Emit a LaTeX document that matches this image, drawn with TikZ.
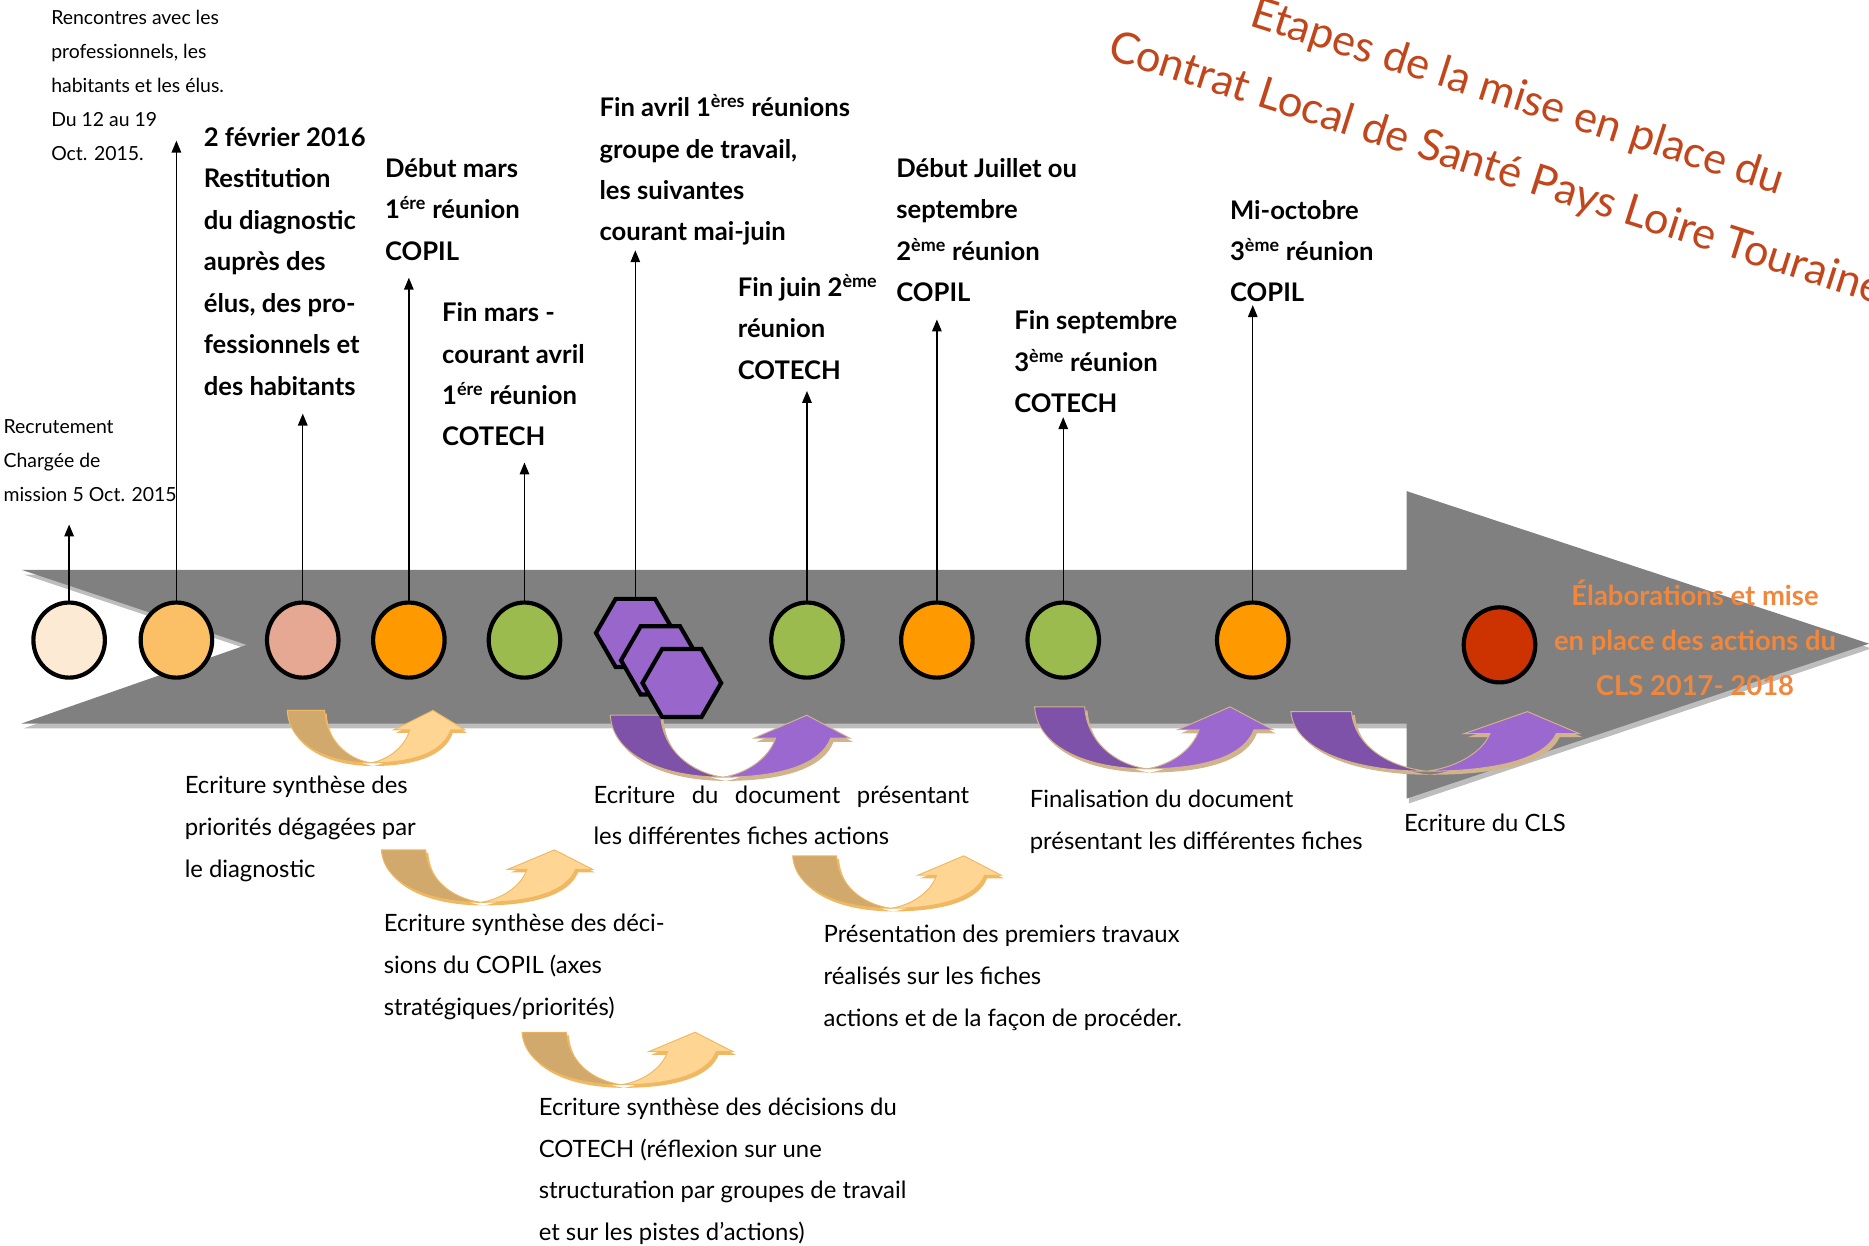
\documentclass[tikz,border=0pt]{standalone}
\usepackage{fontspec}
\setmainfont{Lato}
\usetikzlibrary{shapes.geometric,arrows.meta}
\definecolor{arrowgray}{HTML}{808080}
\definecolor{shadowgray}{HTML}{BDBDBD}
\definecolor{cpeach}{HTML}{FDEAD5}
\definecolor{clorange}{HTML}{FBC066}
\definecolor{csalmon}{HTML}{E7A893}
\definecolor{corange}{HTML}{FF9900}
\definecolor{cgreen}{HTML}{9BBB4F}
\definecolor{cred}{HTML}{CC3300}
\definecolor{hexpurple}{HTML}{9966CC}
\definecolor{orangetxt}{HTML}{F0873C}
\definecolor{titlered}{HTML}{C2461B}
\definecolor{tandark}{HTML}{D2A96C}
\definecolor{tanlight}{HTML}{FFD593}
\definecolor{tanedge}{HTML}{F0B860}
\definecolor{purdark}{HTML}{7E52A8}
\definecolor{purlight}{HTML}{9B68CF}
\definecolor{puredge}{HTML}{D2B48C}
\tikzset{
  uarrow/.pic={
    \begin{scope}[shift={(0.012,0.06)}]
      \path[fill=#1edge] (0,0) -- (0.21,0) .. controls (0.22,0.55) and (0.33,0.92) .. (0.47,1)
        .. controls (0.22,1) and (0.01,0.65) .. (0,0) -- cycle;
      \path[fill=#1edge] (0.47,1) .. controls (0.56,0.95) and (0.66,0.72) .. (0.69,0.37)
        -- (0.60,0.37) -- (0.82,0) -- (1,0.37) -- (0.92,0.37)
        .. controls (0.88,0.78) and (0.72,1) .. (0.47,1) -- cycle;
    \end{scope}
    \path[fill=#1dark, draw=#1edge, line width=0.8pt] (0,0) -- (0.21,0) .. controls (0.22,0.55) and (0.33,0.92) .. (0.47,1)
      .. controls (0.22,1) and (0.01,0.65) .. (0,0) -- cycle;
    \path[fill=#1light, draw=#1edge, line width=0.8pt] (0.47,1) .. controls (0.56,0.95) and (0.66,0.72) .. (0.69,0.37)
      -- (0.60,0.37) -- (0.82,0) -- (1,0.37) -- (0.92,0.37)
      .. controls (0.88,0.78) and (0.72,1) .. (0.47,1) -- cycle;
  }
}
\begin{document}
\begin{tikzpicture}[x=1pt,y=-1pt,
  every node/.style={inner sep=0pt, outer sep=0pt},
  small/.style={anchor=north west, align=left, font=\fontsize{16.3}{28.5}\selectfont},
  milestone/.style={anchor=north west, align=left, font=\fontsize{21.5}{34.8}\selectfont\bfseries},
  task/.style={anchor=north west, align=left, font=\fontsize{20}{35}\selectfont},
  dot/.style={ellipse, draw=black, line width=3.5pt, minimum width=60pt, minimum height=63pt},
  hexa/.style={regular polygon, regular polygon sides=6, minimum size=66pt, draw=black, line width=3.5pt, fill=hexpurple},
  up/.style={draw=black, line width=1.1pt, -{Triangle[width=8pt,length=10pt]}},
  title/.style={anchor=base west, rotate=-17.7, text=titlered, font=\fontsize{36.5}{42}\selectfont},
]
\path[use as bounding box] (0,0) rectangle (1568,1045.33);
\clip (0,0) rectangle (1568,1045.33);

% main gray arrow
\begin{scope}[shift={(2,4)}]
  \fill[shadowgray] (18,478) -- (1180,478) -- (1180,412) -- (1568,540) -- (1180,670) -- (1180,607) -- (18,607) -- (207,541) -- cycle;
\end{scope}
\fill[arrowgray] (18,478) -- (1180,478) -- (1180,412) -- (1568,540) -- (1180,670) -- (1180,607) -- (18,607) -- (207,541) -- cycle;

% title
\node[title] (title1) at (1047,21) {Etapes de la mise en place du};
\node[title] (title2) at (928,49) {Contrat Local de Santé Pays Loire Touraine};

% curved U arrows
\pic[xscale=149, yscale=44] at (241,596) {uarrow=tan};
\pic[xscale=177, yscale=44] at (320,713) {uarrow=tan};
\pic[xscale=177, yscale=44] at (438,866) {uarrow=tan};
\pic[xscale=175, yscale=44] at (665,718) {uarrow=tan};
\pic[xscale=201, yscale=52] at (512,600) {uarrow=pur};
\pic[xscale=200, yscale=52] at (868,593) {uarrow=pur};
\pic[xscale=242, yscale=50] at (1083,597) {uarrow=pur};

% milestones
\node[dot, fill=cpeach] (c1) at (58,537) {};
\node[dot, fill=clorange] (c2) at (148,537) {};
\node[dot, fill=csalmon] (c3) at (254,537) {};
\node[dot, fill=corange] (c4) at (343,537) {};
\node[dot, fill=cgreen] (c5) at (440,537) {};
\node[hexa] (h1) at (533,531) {};
\node[hexa] (h2) at (554,554) {};
\node[hexa] (h3) at (572,573) {};
\node[dot, fill=cgreen] (c7) at (677,537) {};
\node[dot, fill=corange] (c8) at (786,537) {};
\node[dot, fill=cgreen] (c9) at (892,537) {};
\node[dot, fill=corange] (c10) at (1051,537) {};
\node[dot, fill=cred] (c11) at (1258,541) {};

% arrow tips
\coordinate (t1) at (58,440);
\coordinate (t2) at (148,118);
\coordinate (t3) at (254,347);
\coordinate (t4) at (343,233);
\coordinate (t5) at (440,388);
\coordinate (t6) at (533,210);
\coordinate (t7) at (677,328);
\coordinate (t8) at (786,268);
\coordinate (t9) at (892,350);
\coordinate (t10) at (1051,256);
\draw[up] (c1.north) -- (t1);
\draw[up] (c2.north) -- (t2);
\draw[up] (c3.north) -- (t3);
\draw[up] (c4.north) -- (t4);
\draw[up] (c5.north) -- (t5);
\draw[up] (h1.north) -- (t6);
\draw[up] (c7.north) -- (t7);
\draw[up] (c8.north) -- (t8);
\draw[up] (c9.north) -- (t9);
\draw[up] (c10.north) -- (t10);

% upper labels
\node[small] (l1) at (3,343.7) {\strut Recrutement\\Chargée de\\mission 5 Oct. 2015};
\node[small] (l2) at (43,0.7) {\strut Rencontres avec les\\professionnels, les\\habitants et les élus.\\Du 12 au 19\\Oct. 2015.};
\node[milestone] (l3) at (171,98.4) {\strut 2 février 2016\\Restitution\\du diagnostic\\auprès des\\élus, des pro-\\fessionnels et\\des habitants};
\node[milestone] (l4) at (323,124.4) {\strut Début mars\\1\textsuperscript{ére} réunion\\COPIL};
\node[milestone] (l5) at (371,245.4) {\strut Fin mars -\\courant avril\\1\textsuperscript{ére} réunion\\COTECH};
\node[milestone] (l6) at (503,73.4) {\strut Fin avril 1\textsuperscript{ères} réunions\\groupe de travail,\\les suivantes\\courant mai-juin};
\node[milestone] (l7) at (619,224.4) {\strut Fin juin 2\textsuperscript{ème}\\réunion\\COTECH};
\node[milestone] (l8) at (752,124.4) {\strut Début Juillet ou\\septembre\\2\textsuperscript{ème} réunion\\COPIL};
\node[milestone] (l9) at (851,252.4) {\strut Fin septembre\\3\textsuperscript{ème} réunion\\COTECH};
\node[milestone] (l10) at (1032,159.4) {\strut Mi-octobre\\3\textsuperscript{ème} réunion\\COPIL};

% final text on arrow head
\node[anchor=north, align=center, text=orangetxt, font=\fontsize{23}{37.5}\selectfont\bfseries] (fin) at (1422,482) {\strut Élaborations et mise\\en place des actions du\\CLS 2017- 2018};

% lower texts
\node[task] (b1) at (155,641.3) {\strut Ecriture synthèse des\\priorités dégagées par\\le diagnostic};
\node[task] (b2) at (322,757.3) {\strut Ecriture synthèse des déci-\\sions du COPIL (axes\\stratégiques/priorités)};
\node[task] (b3) at (452,911.3) {\strut Ecriture synthèse des décisions du\\COTECH (réflexion sur une\\structuration par groupes de travail\\et sur les pistes d’actions)};
\node[task] (b4) at (498,649.3) {\strut\makebox[315pt][s]{Ecriture du document présentant}\\les différentes fiches actions};
\node[task] (b5) at (691,766.3) {\strut Présentation des premiers travaux\\réalisés sur les fiches\\actions et de la façon de procéder.};
\node[task] (b6) at (864,653.3) {\strut Finalisation du document\\présentant les différentes fiches};
\node[task] (b7) at (1178,673.3) {\strut Ecriture du CLS};
\end{tikzpicture}
\end{document}
